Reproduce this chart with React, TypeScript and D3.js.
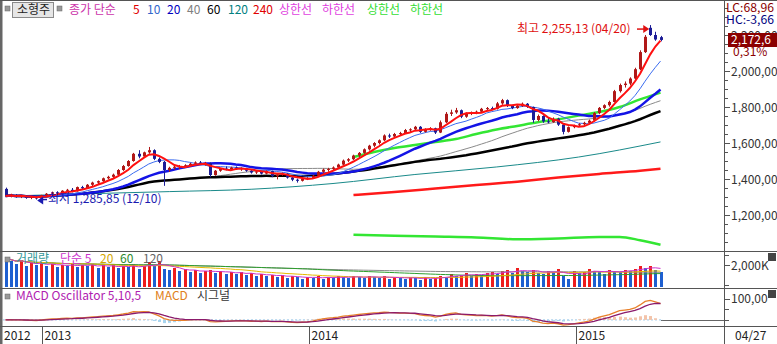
import React from "react";
import * as d3 from "d3";

// ---- DATA (weekly) ----
const startMonday = new Date(2012, 10, 12);
const opens = [1345,1305,1312,1300,1308,1295,1300,1292,1310,1318,1326,1320,1335,1340,1332,1355,1348,1368,1380,1388,1404,1412,1424,1450,1472,1500,1540,1525,1548,1560,1512,1495,1450,1462,1468,1472,1476,1485,1492,1482,1488,1422,1446,1458,1452,1464,1455,1460,1446,1436,1442,1430,1444,1416,1424,1430,1408,1396,1390,1402,1406,1418,1440,1452,1456,1464,1480,1502,1510,1530,1545,1565,1585,1600,1615,1642,1636,1650,1655,1672,1676,1690,1662,1676,1682,1658,1715,1762,1770,1782,1746,1764,1768,1774,1790,1794,1790,1820,1838,1808,1794,1806,1818,1800,1728,1750,1720,1716,1735,1702,1662,1688,1698,1704,1712,1724,1766,1795,1810,1828,1888,1922,1930,1958,2010,2105,2240,2200,2188];
const highs = [1352,1318,1316,1312,1310,1305,1304,1312,1322,1330,1332,1338,1345,1350,1358,1362,1372,1385,1392,1408,1418,1430,1455,1478,1505,1545,1560,1552,1578,1565,1520,1500,1468,1475,1478,1482,1490,1498,1500,1495,1492,1450,1462,1470,1468,1470,1465,1462,1452,1448,1446,1448,1446,1430,1436,1432,1412,1402,1406,1410,1422,1445,1458,1462,1470,1485,1508,1516,1535,1550,1570,1590,1605,1620,1648,1652,1656,1662,1678,1682,1695,1694,1682,1688,1685,1725,1772,1785,1795,1786,1770,1775,1780,1795,1800,1802,1828,1845,1842,1812,1812,1825,1822,1802,1758,1754,1740,1742,1740,1706,1692,1702,1710,1718,1730,1772,1800,1815,1835,1895,1930,1942,1965,2018,2115,2200,2255.13,2218,2195];
const lows = [1300,1298,1296,1294,1290,1288,1285.85,1290,1305,1312,1315,1318,1328,1326,1330,1340,1345,1360,1372,1384,1398,1406,1420,1445,1468,1496,1515,1518,1540,1505,1488,1362,1440,1452,1455,1462,1468,1476,1478,1474,1410,1418,1440,1448,1446,1450,1445,1440,1430,1428,1425,1426,1410,1398,1418,1402,1388,1380,1386,1394,1400,1414,1434,1440,1448,1460,1476,1494,1505,1522,1540,1558,1576,1592,1610,1628,1630,1642,1650,1660,1670,1656,1658,1668,1650,1655,1710,1750,1762,1738,1740,1755,1760,1768,1780,1784,1786,1812,1800,1788,1790,1800,1795,1712,1720,1712,1710,1712,1695,1648,1658,1682,1690,1698,1706,1720,1760,1788,1802,1825,1880,1908,1920,1952,2005,2100,2195,2168,2165];
const closes = [1305,1312,1300,1308,1295,1300,1292,1310,1318,1326,1320,1335,1340,1332,1355,1348,1368,1380,1388,1404,1412,1424,1450,1472,1500,1540,1525,1548,1560,1512,1495,1450,1462,1468,1472,1476,1485,1492,1482,1488,1422,1446,1458,1452,1464,1455,1460,1446,1436,1442,1430,1444,1416,1424,1430,1408,1396,1390,1402,1406,1418,1440,1452,1456,1464,1480,1502,1510,1530,1545,1565,1585,1600,1615,1642,1636,1650,1655,1672,1676,1690,1662,1676,1682,1658,1715,1762,1770,1782,1746,1764,1768,1774,1790,1794,1790,1820,1838,1808,1794,1806,1818,1800,1728,1750,1720,1716,1735,1702,1662,1688,1698,1704,1712,1724,1766,1795,1810,1828,1888,1922,1930,1958,2010,2105,2190,2200,2175,2172.6];
const volumes = [2350,2200,2050,2250,1950,2100,2000,2150,1950,2050,1900,2000,1950,2100,1900,2000,1950,2050,1850,2000,1900,2000,1850,1950,1900,2050,1800,1950,2150,1950,2200,1800,1750,1850,1700,1800,1650,1750,1600,1700,1750,1600,1700,1550,1650,1550,1650,1500,1600,1450,1550,1450,1500,1400,1500,1350,1450,1400,1300,1400,1350,1450,1300,1400,1350,1450,1400,1350,1450,1400,1350,1450,1400,1350,1450,1300,1400,1350,1300,1400,1350,1250,1400,1300,1350,1450,1400,1550,1450,1500,1600,1450,1550,1500,1600,1650,1550,1700,1750,1600,1850,1700,1650,1750,1600,1550,1700,1650,1800,1450,1300,1700,1600,1650,1800,1700,1650,1550,1750,1700,1650,1750,1700,1800,1950,1850,1950,1750,1650];
const ma120Idx = [0,16,32,48,64,80,96,112,128];
const ma120Vals = [1305,1318,1330,1343,1375,1425,1467,1522,1606];
const ma240Idx = [68,76,84,92,100,108,116,124,128];
const ma240Vals = [1311,1328,1347,1366,1385,1408,1428,1446,1457];
const bbUpIdx = [68,72,76,80,84,88,92,96,100,104,108,112,116,120,124,128];
const bbUpVals = [1522,1550,1572,1589,1605,1622,1650,1675,1695,1715,1732,1752,1772,1800,1842,1880];
const bbLoIdx = [68,76,84,92,100,108,116,120,124,128];
const bbLoVals = [1090,1085,1080,1075,1065,1070,1078,1078,1060,1035];
const priceTicks = [1200, 1400, 1600, 1800, 2000, 2200];
const yearLabels = ["2012", "2013", "2014", "2015"];
const lastDateLabel = "04/27";

const FONT = "'Noto Sans CJK KR', 'Noto Sans', sans-serif";

function sma(arr: number[], n: number) {
  return arr.map((_, i) => d3.mean(arr.slice(Math.max(0, i - n + 1), i + 1)) as number);
}
function ema(arr: number[], n: number) {
  const a = 2 / (n + 1);
  const out: number[] = [];
  arr.forEach((v, i) => out.push(i === 0 ? v : a * v + (1 - a) * out[i - 1]));
  return out;
}

export default function App() {
  const n = closes.length;
  const dates = d3.range(n).map((i) => d3.timeMonday.offset(startMonday, i));
  const x = d3.scaleTime().domain([dates[0], dates[n - 1]]).range([5.5, 660.5]);
  const y = d3.scaleLinear().domain([1000, 2200]).range([251, 35]);
  const vy = d3.scaleLinear().domain([900, 2700]).range([287, 251]);
  const my = d3.scaleLinear().domain([-29, 152]).range([326, 288]);

  const lineIdx = (sc: d3.ScaleLinear<number, number>, curve = d3.curveLinear) =>
    d3.line<[number, number]>().x((d) => x(dates[d[0]])).y((d) => sc(d[1])).curve(curve);

  const pts = (vals: number[]) => vals.map((v, i) => [i, v] as [number, number]);
  const sampled = (idx: number[], vals: number[]) => idx.map((k, i) => [k, vals[i]] as [number, number]);

  const ma5 = sma(closes, 5), ma10 = sma(closes, 10), ma20 = sma(closes, 20), ma40 = sma(closes, 40), ma60 = sma(closes, 60);
  const vma5 = sma(volumes, 5), vma20 = sma(volumes, 20), vma60 = sma(volumes, 60), vma120 = sma(volumes, 120);
  const e5 = ema(closes, 5), e10 = ema(closes, 10);
  const macd = e5.map((v, i) => v - e10[i]);
  const signal = ema(macd, 5);
  const osc = macd.map((v, i) => v - signal[i]);

  const pl = lineIdx(y);
  const plSmooth = lineIdx(y, d3.curveMonotoneX);
  const vl = lineIdx(vy);
  const ml = lineIdx(my);

  const upC = "#b01818", dnC = "#1c1c96";
  let hiI = 0, loI = 0;
  highs.forEach((h, i) => { if (h > highs[hiI]) hiI = i; });
  lows.forEach((l, i) => { if (l < lows[loI]) loI = i; });
  const hx = x(dates[hiI]), hy = y(highs[hiI]);
  const lx = x(dates[loI]), ly = y(lows[loI]);

  const minorTicks = d3.range(1050, 2351, 50).filter((v) => v % 200 !== 0);
  const years = [2013, 2014, 2015];
  const fmtP = (v: number) => d3.format(",")(v) + ",00";

  return (
    <svg width={777} height={344} style={{ position: "absolute", left: 0, top: 0, background: "#fff", fontFamily: FONT }}>
      <rect x={0} y={0} width={777} height={344} fill="#fff" />
      {/* MA lines main */}
      <path d={plSmooth(sampled(bbLoIdx, bbLoVals)) || ""} fill="none" stroke="#33e633" strokeWidth={2.5} />
      <path d={plSmooth(sampled(ma240Idx, ma240Vals)) || ""} fill="none" stroke="#ff1a1a" strokeWidth={2.5} />
      <path d={plSmooth(sampled(ma120Idx, ma120Vals)) || ""} fill="none" stroke="#1a8a8a" strokeWidth={1} />
      <path d={pl(pts(ma40)) || ""} fill="none" stroke="#8a8a8a" strokeWidth={1} />
      <path d={pl(pts(ma60)) || ""} fill="none" stroke="#000" strokeWidth={2.5} />
      <path d={plSmooth(sampled(bbUpIdx, bbUpVals)) || ""} fill="none" stroke="#33e633" strokeWidth={2.5} />
      <path d={pl(pts(ma20)) || ""} fill="none" stroke="#1414e6" strokeWidth={2.5} />
      <path d={pl(pts(ma10)) || ""} fill="none" stroke="#3a6cf0" strokeWidth={1} />
      {/* candles */}
      {closes.map((c, i) => {
        const o = opens[i];
        const cx = Math.round(x(dates[i])) + 0.5;
        const col = c >= o ? upC : dnC;
        const top = y(Math.max(o, c)), bot = y(Math.min(o, c));
        return (
          <g key={i}>
            <line x1={cx} x2={cx} y1={y(highs[i])} y2={y(lows[i])} stroke={col} strokeWidth={1} />
            <rect x={cx - 1.5} y={top} width={3} height={Math.max(1, bot - top)} fill={col} />
          </g>
        );
      })}
      <path d={pl(pts(ma5)) || ""} fill="none" stroke="#ff1010" strokeWidth={2} />

      {/* annotations */}
      <text x={517} y={33} fontSize={12} fill="#e01010">최고 2,255,13 (04/20)</text>
      <line x1={637} x2={hx - 5} y1={hy + 4} y2={hy + 4} stroke="#e01010" strokeWidth={1.5} />
      <path d={`M${hx - 1},${hy + 4} L${hx - 7},${hy} L${hx - 7},${hy + 8} Z`} fill="#e01010" />
      <text x={48} y={203} fontSize={12} fill="#1a1ab0">최저 1,285,85 (12/10)</text>
      <line x1={47} x2={lx + 5} y1={ly} y2={ly} stroke="#1a1ab0" strokeWidth={1.5} />
      <path d={`M${lx + 1},${ly + 1} L${lx + 7},${ly - 3} L${lx + 7},${ly + 5} Z`} fill="#1a1ab0" />

      {/* main legend */}
      <rect x={5} y={6} width={5} height={5} fill="#999" stroke="#666" strokeWidth={0.5} />
      <rect x={12.5} y={2.5} width={41} height={15} fill="#e6e6e6" stroke="#8a8a8a" />
      <text x={17} y={14} fontSize={12} fill="#222">소형주</text>
      <rect x={57} y={6} width={5} height={5} fill="#999" stroke="#666" strokeWidth={0.5} />
      <text y={14} fontSize={12}>
        <tspan x={69} fill="#cc33aa">종가 단순</tspan>
        <tspan x={133} fill="#e00000">5</tspan>
        <tspan x={147} fill="#3366cc">10</tspan>
        <tspan x={167} fill="#0000c0">20</tspan>
        <tspan x={187} fill="#808080">40</tspan>
        <tspan x={207} fill="#000">60</tspan>
        <tspan x={228} fill="#008080">120</tspan>
        <tspan x={253} fill="#e00000">240</tspan>
        <tspan x={279} fill="#e040e0">상한선</tspan>
        <tspan x={322} fill="#e040e0">하한선</tspan>
        <tspan x={367} fill="#33dd33">상한선</tspan>
        <tspan x={410} fill="#33dd33">하한선</tspan>
      </text>

      {/* volume panel */}
      {volumes.map((v, i) => {
        const cx = Math.round(x(dates[i])) + 0.5;
        const col = i > 0 && v > volumes[i - 1] ? "#ee1c1c" : "#1e5fd0";
        return <rect key={i} x={cx - 1.5} y={vy(v)} width={3} height={287 - vy(v)} fill={col} />;
      })}
      <path d={vl(pts(vma120)) || ""} fill="none" stroke="#8a8a8a" strokeWidth={1} />
      <path d={vl(pts(vma60)) || ""} fill="none" stroke="#2e9e2e" strokeWidth={1} />
      <path d={vl(pts(vma20)) || ""} fill="none" stroke="#e6b800" strokeWidth={1} />
      <path d={vl(pts(vma5)) || ""} fill="none" stroke="#cc33cc" strokeWidth={1} />
      <rect x={5} y={257} width={5} height={5} fill="#999" stroke="#666" strokeWidth={0.5} />
      <text y={263} fontSize={12}>
        <tspan x={16} fill="#339999">거래량</tspan>
        <tspan x={60} fill="#cc33cc">단순 5</tspan>
        <tspan x={100} fill="#d4a800">20</tspan>
        <tspan x={120} fill="#2e8b2e">60</tspan>
        <tspan x={143} fill="#666">120</tspan>
      </text>

      {/* MACD panel */}
      <line x1={3} x2={661} y1={my(0)} y2={my(0)} stroke="#9cc8e8" strokeDasharray="2,2" />
      <line x1={661} x2={724} y1={Math.round(my(0)) + 0.5} y2={Math.round(my(0)) + 0.5} stroke="#666" />
      {osc.map((v, i) => {
        const cx = Math.round(x(dates[i])) + 0.5;
        const y0 = my(0), y1 = my(v);
        return <rect key={i} x={cx - 1.5} y={Math.min(y0, y1)} width={3} height={Math.abs(y1 - y0)} fill={v >= 0 ? "#f3c4aa" : "#a8d4ee"} />;
      })}
      <path d={ml(pts(macd)) || ""} fill="none" stroke="#e8802a" strokeWidth={1.3} />
      <path d={ml(pts(signal)) || ""} fill="none" stroke="#8b1a6b" strokeWidth={1.3} />
      <rect x={5} y={294} width={5} height={5} fill="#999" stroke="#666" strokeWidth={0.5} />
      <text y={300} fontSize={12}>
        <tspan x={16} fill="#b020b0">MACD Oscillator 5,10,5</tspan>
        <tspan x={155} fill="#e08020">MACD</tspan>
        <tspan x={197} fill="#333">시그널</tspan>
      </text>

      {/* frame */}
      <rect x={0} y={0} width={2.5} height={344} fill="#666" />
      <line x1={0} x2={777} y1={0.5} y2={0.5} stroke="#555" />
      <line x1={0} x2={777} y1={251.5} y2={251.5} stroke="#555" />
      <line x1={0} x2={777} y1={288.5} y2={288.5} stroke="#555" />
      <line x1={0} x2={777} y1={326.5} y2={326.5} stroke="#555" />
      <line x1={724.5} x2={724.5} y1={0} y2={344} stroke="#555" />

      {/* price axis */}
      {minorTicks.map((v) => (y(v) > 2 && y(v) < 250 ? <line key={v} x1={724} x2={728} y1={Math.round(y(v)) + 0.5} y2={Math.round(y(v)) + 0.5} stroke="#555" /> : null))}
      {priceTicks.map((v) => (
        <g key={v}>
          <line x1={724} x2={730} y1={Math.round(y(v)) + 0.5} y2={Math.round(y(v)) + 0.5} stroke="#555" />
          <text x={731} y={y(v) + 4.5} fontSize={12} fill="#333">{fmtP(v)}</text>
        </g>
      ))}
      <text x={726} y={12} fontSize={11.5} fill="#8b0000" textLength={48} lengthAdjust="spacingAndGlyphs">LC:68,96</text>
      <text x={726} y={24} fontSize={11.5} fill="#000080" textLength={48} lengthAdjust="spacingAndGlyphs">HC:-3,66</text>
      <rect x={728} y={33} width={49} height={14} fill="#8b0000" />
      <text x={731} y={44} fontSize={12} fill="#fff">2,172,6</text>
      <text x={733} y={56} fontSize={12} fill="#8b0000">0,31%</text>

      {/* volume axis */}
      {[1000, 2500].map((v) => <line key={v} x1={724} x2={729} y1={Math.round(vy(v)) + 0.5} y2={Math.round(vy(v)) + 0.5} stroke="#555" />)}
      <line x1={724} x2={730} y1={Math.round(vy(2000)) + 0.5} y2={Math.round(vy(2000)) + 0.5} stroke="#555" />
      <text x={731} y={vy(2000) + 4.5} fontSize={12} fill="#333">2,000K</text>
      <rect x={768} y={253} width={8} height={8} fill="#444" />
      {/* macd axis */}
      {[0, 50, 150].map((v) => <line key={v} x1={724} x2={729} y1={Math.round(my(v)) + 0.5} y2={Math.round(my(v)) + 0.5} stroke="#555" />)}
      <line x1={724} x2={730} y1={Math.round(my(100)) + 0.5} y2={Math.round(my(100)) + 0.5} stroke="#555" />
      <text x={731} y={my(100) + 4.5} fontSize={12} fill="#333">100,00</text>
      <rect x={768} y={290} width={8} height={8} fill="#444" />

      {/* x axis */}
      <text x={4} y={340} fontSize={12} fill="#222">{yearLabels[0]}</text>
      {years.map((yr, k) => {
        const sx = Math.round(x(new Date(yr, 0, 1))) + 0.5;
        return (
          <g key={yr}>
            <line x1={sx} x2={sx} y1={327} y2={344} stroke="#555" />
            <text x={sx + 2} y={340} fontSize={12} fill="#222">{yearLabels[k + 1]}</text>
          </g>
        );
      })}
      <text x={735} y={340} fontSize={12} fill="#222">{lastDateLabel}</text>
    </svg>
  );
}
